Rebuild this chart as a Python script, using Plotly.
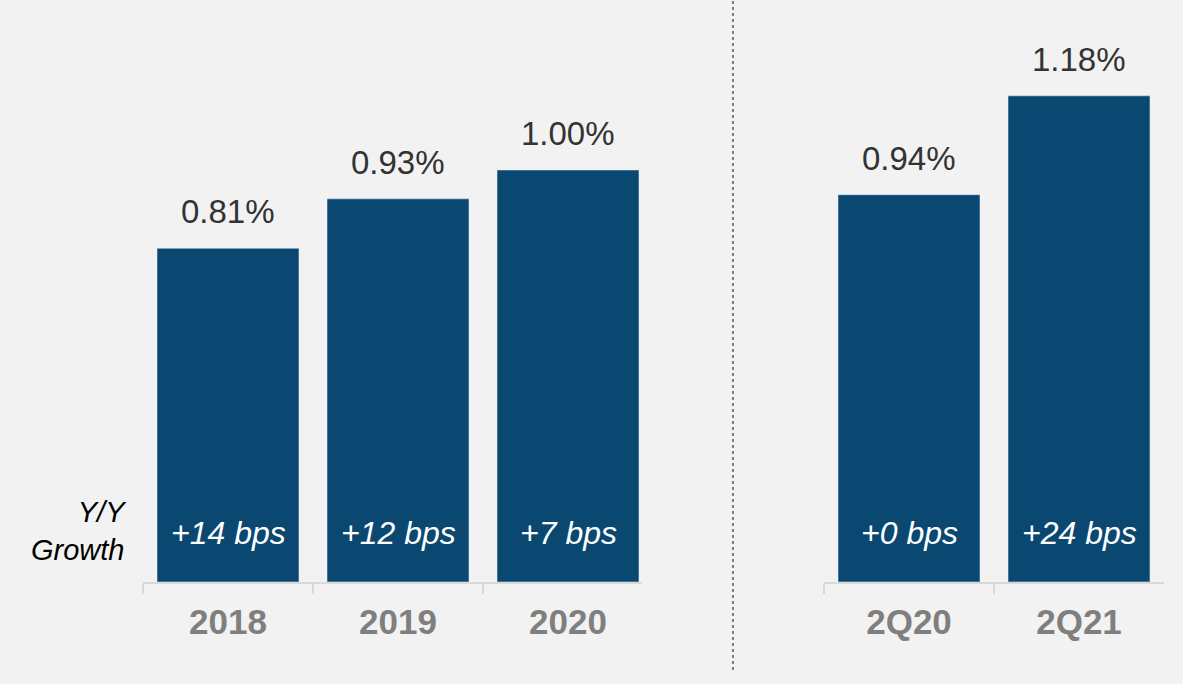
import plotly.graph_objects as go

# annual figures
years = ["2018", "2019", "2020"]
year_vals = [0.81, 0.93, 1.00]
year_growth = ["+14 bps", "+12 bps", "+7 bps"]

# quarter figures
quarters = ["2Q20", "2Q21"]
quarter_vals = [0.94, 1.18]
quarter_growth = ["+0 bps", "+24 bps"]

BAR = "#0a4872"
BG = "#f2f2f2"
W, H = 1183, 684
PX_PER_UNIT = 412.0
BASE_Y = 582

fig = go.Figure()
fig.add_trace(go.Bar(x=years, y=year_vals, marker_color=BAR, width=0.835,
                     xaxis="x", yaxis="y", hoverinfo="skip"))
fig.add_trace(go.Bar(x=quarters, y=quarter_vals, marker_color=BAR, width=0.835,
                     xaxis="x2", yaxis="y2", hoverinfo="skip"))

annots = []
for xr, yr, cats, vals, growth in [("x", "y", years, year_vals, year_growth),
                                    ("x2", "y2", quarters, quarter_vals, quarter_growth)]:
    # category index as x (numeric-looking names like "2018" would be read as indexes)
    for i, (v, g) in enumerate(zip(vals, growth)):
        annots.append(dict(x=i, y=v, xref=xr, yref=yr, text=f"{v:.2f}%",
                           showarrow=False, yanchor="bottom", yshift=16,
                           font=dict(family="Liberation Sans", size=33, color="#333333")))
        annots.append(dict(x=i, y=0, xref=xr, yref=yr, text=f"<i>{g}</i>",
                           showarrow=False, yanchor="middle", yshift=49,
                           font=dict(family="Liberation Sans", size=32, color="white")))

# paper y is measured over the plot area (0 at the baseline, 1 at the top)
annots.append(dict(x=129 / W, y=(BASE_Y - 531) / BASE_Y, xref="paper", yref="paper",
                   text="<i>Y/Y<br>Growth</i>", showarrow=False, align="right",
                   xanchor="right", yanchor="middle",
                   font=dict(family="Liberation Sans", size=29, color="black")))

xaxis_common = dict(type="category", showline=True, linecolor="#d9d9d9", linewidth=2,
                    ticks="outside", tickson="boundaries", ticklen=10, tickcolor="#d9d9d9",
                    tickwidth=2, showgrid=False, zeroline=False, fixedrange=True,
                    ticklabelstandoff=8,
                    tickfont=dict(family="Liberation Sans", size=35, color="#7f7f7f",
                                  weight="bold"))

y_top = BASE_Y / PX_PER_UNIT
yaxis_common = dict(range=[0, y_top], visible=False, showgrid=False, fixedrange=True)

fig.update_layout(
    width=W, height=H,
    margin=dict(l=0, r=0, t=0, b=H - BASE_Y),
    paper_bgcolor=BG, plot_bgcolor=BG,
    showlegend=False,
    xaxis=dict(xaxis_common, domain=[143 / W, 642 / W], range=[-0.5, -0.5 + 499 / 170]),
    xaxis2=dict(xaxis_common, domain=[824 / W, 1164 / W], range=[-0.5, 1.5]),
    yaxis=dict(yaxis_common, anchor="x"),
    yaxis2=dict(yaxis_common, anchor="x2"),
    annotations=annots,
    shapes=[dict(type="line", xref="paper", yref="paper",
                 x0=733 / W, x1=733 / W, y0=(BASE_Y - 670) / BASE_Y, y1=1,
                 line=dict(color="#7f7f7f", width=2, dash="dot"))],
)

fig.write_html("out.html", config={"displayModeBar": False},
               post_script="document.body.style.margin='0';"
                           "document.body.style.overflow='hidden';")
